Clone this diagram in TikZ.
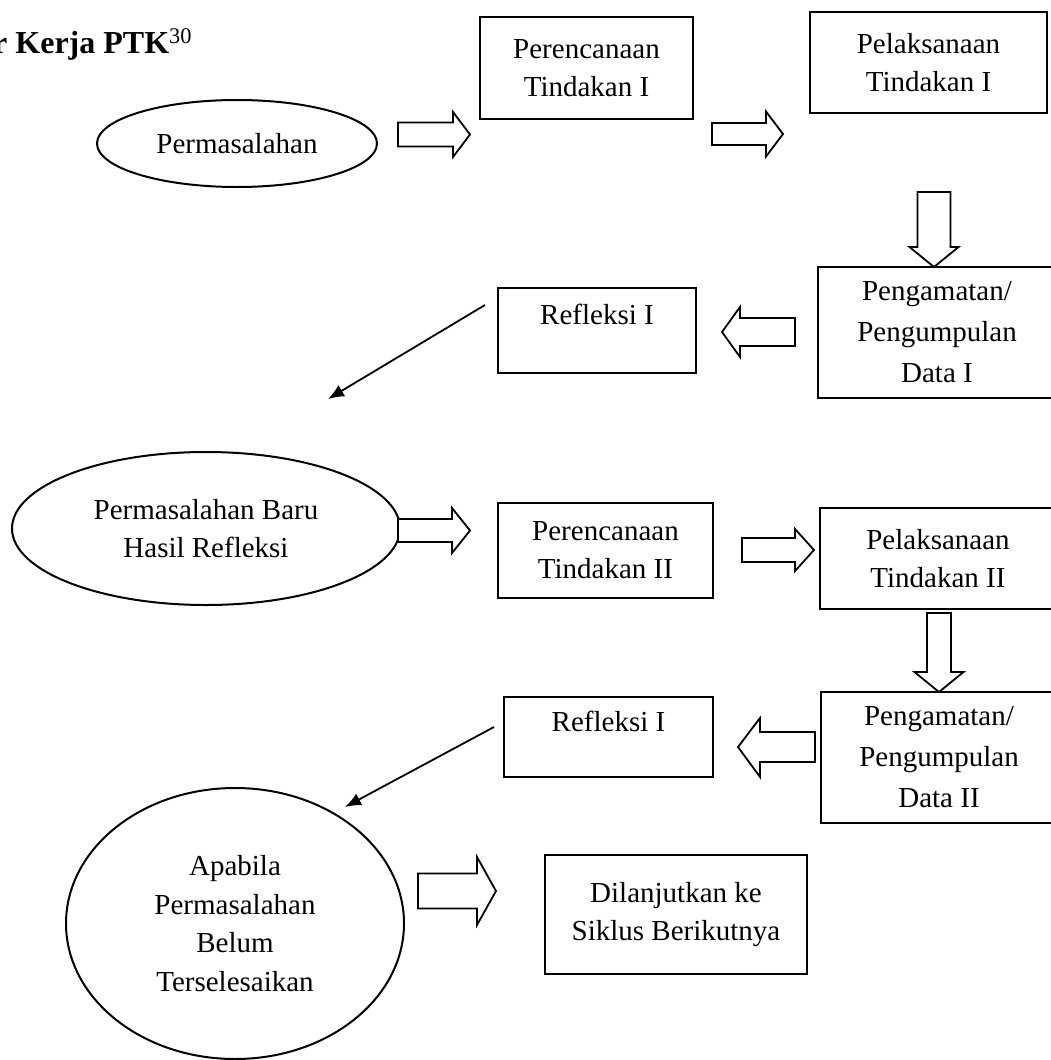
\documentclass[tikz,border=0pt]{standalone}
\usepackage{fontspec}
\setmainfont{Liberation Serif}
\usetikzlibrary{shapes.geometric,arrows.meta,calc}
% right-pointing block arrow: tail x, tip x, centre y, shaft half, head half, head-start x
\newcommand\blkR[6]{\draw[blk] (#1,#3-#4) -- (#6,#3-#4) -- (#6,#3-#5) -- (#2,#3) -- (#6,#3+#5) -- (#6,#3+#4) -- (#1,#3+#4) -- cycle;}
% down-pointing block arrow: centre x, top y, tip y, shaft half, head half, head-start y
\newcommand\blkD[6]{\draw[blk] (#1-#4,#2) -- (#1-#4,#6) -- (#1-#5,#6) -- (#1,#3) -- (#1+#5,#6) -- (#1+#4,#6) -- (#1+#4,#2) -- cycle;}
\begin{document}
\begin{tikzpicture}[x=1pt,y=-1pt,
  box/.style={draw, line width=2pt, rectangle, inner sep=0pt, align=center,
              font=\fontsize{29}{38}\selectfont},
  tallbox/.style={box, font=\fontsize{29}{41}\selectfont},
  oval/.style={draw, ellipse, line width=2pt, inner sep=0pt, align=center,
              font=\fontsize{29}{38.5}\selectfont},
  blk/.style={draw, line width=1.8pt, line join=miter, fill=white},
  thinarrow/.style={line width=1.8pt, -{Latex[length=16pt,width=13pt]}}]
\useasboundingbox[fill=white] (0,0) rectangle (1051,1060);
\clip (0,0) rectangle (1051,1060);

% title
\node[anchor=base west, inner sep=0pt, font=\bfseries\fontsize{32}{36}\selectfont]
  (title) at (-7,53) {r Kerja PTK\textsuperscript{\mdseries 30}};

% cycle I
\node[oval, minimum width=280, minimum height=87] (p1) at (237,143.5) {Permasalahan};
\node[box, minimum width=213, minimum height=102] (per1) at (586.5,68) {Perencanaan\\Tindakan I};
\node[box, minimum width=237, minimum height=101] (pel1) at (928.5,62.5) {Pelaksanaan\\Tindakan I};
\node[tallbox, minimum width=238, minimum height=131] (pg1) at (937,332.5) {Pengamatan/\\Pengumpulan\\Data I};
\node[box, minimum width=198, minimum height=85] (ref1) at (597,330.5) {Refleksi I\\[-6pt]\mbox{}};

% cycle II
\node[oval, minimum width=388, minimum height=153] (p2) at (206,528.5) {Permasalahan Baru\\Hasil Refleksi};
\node[box, minimum width=215, minimum height=95] (per2) at (605.5,550.5) {Perencanaan\\Tindakan II};
\node[box, minimum width=236, minimum height=101] (pel2) at (938,558.5) {Pelaksanaan\\Tindakan II};
\node[tallbox, minimum width=236, minimum height=131] (pg2) at (939,757.5) {Pengamatan/\\Pengumpulan\\Data II};
\node[box, minimum width=209, minimum height=80] (ref2) at (608.5,737) {Refleksi I\\[-6pt]\mbox{}};

% end
\node[oval, minimum width=338, minimum height=271] (p3) at (235,923.5) {Apabila\\Permasalahan\\Belum\\Terselesaikan};
\node[box, minimum width=262, minimum height=119] (lanj) at (676,914.5) {Dilanjutkan ke\\Siklus Berikutnya};

% block arrows
\blkR{398}{470}{134.5}{12}{22.5}{453}
\blkR{712}{783}{134}{11}{22.5}{766}
\blkD{934}{192}{267}{16.5}{24.5}{247}
\draw[blk] (795,318) -- (740,318) -- (740,307) -- (722,332) -- (740,357) -- (740,346) -- (795,346) -- cycle;
\blkR{398}{470}{530.5}{11.5}{22.5}{452}
\blkR{742}{814}{550}{12}{21}{795}
\blkD{939}{613}{692}{12}{24.5}{672}
\draw[blk] (815,732) -- (760,732) -- (760,718) -- (738,747) -- (760,777) -- (760,762) -- (815,762) -- cycle;
\blkR{418}{496}{891}{17.5}{34}{477}

% thin arrows
\coordinate (t1) at (328,399);
\draw[thinarrow] ($(ref1.north west)+(-12,18)$) -- (t1);
\coordinate (t2) at (345,807);
\draw[thinarrow] ($(ref2.north west)+(-9,31)$) -- (t2);
\end{tikzpicture}
\end{document}
